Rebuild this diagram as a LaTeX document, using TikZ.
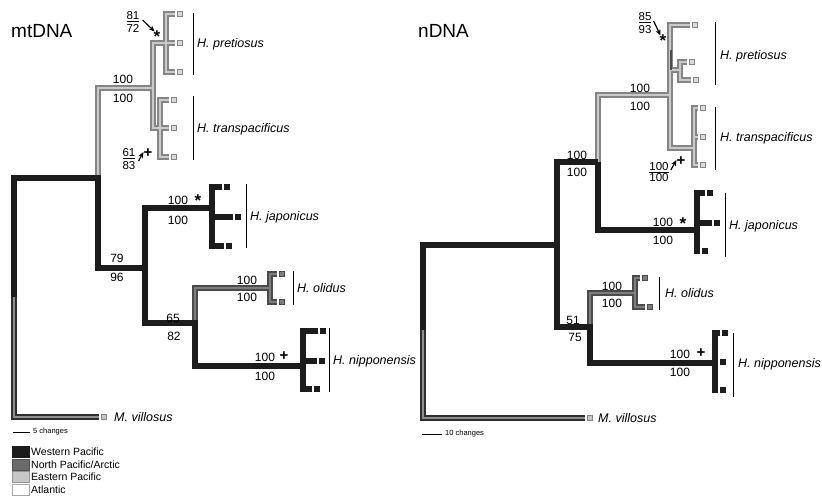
\documentclass[tikz,border=0pt]{standalone}
\usepackage{fontspec}
\setmainfont{Liberation Sans}
\usetikzlibrary{arrows.meta}
\definecolor{wpc}{HTML}{1C1C1C}
\definecolor{npo}{HTML}{4A4A4A}
\definecolor{npi}{HTML}{7E7E7E}
\definecolor{epo}{HTML}{858585}
\definecolor{epi}{HTML}{CACACA}
\definecolor{ogo}{HTML}{2E2E2E}
\definecolor{ogi}{HTML}{8E8E8E}
\tikzset{
 owp/.style={draw=wpc, line width=6pt, line join=miter},
 iwp/.style={owp},
 oep/.style={draw=epo, line width=6.5pt, line join=miter},
 iep/.style={draw=epi, line width=2.8pt, line join=miter},
 onp/.style={draw=npo, line width=6.5pt, line join=miter},
 inp/.style={draw=npi, line width=2.8pt, line join=miter},
 oog/.style={draw=ogo, line width=6.5pt, line join=miter},
 iog/.style={draw=ogi, line width=2.6pt, line join=miter},
 tipbox/.style={minimum size=5.5pt, inner sep=0pt, outer sep=2pt, line width=0.9pt},
 tipwp/.style={tipbox, fill=wpc, draw=wpc},
 tipep/.style={tipbox, fill=epi!70!white, draw=epo},
 tipnp/.style={tipbox, fill=npi, draw=npo},
 tipog/.style={tipbox, fill=ogi!50!white, draw=epo},
 num/.style={font=\fontsize{12}{12}\selectfont, inner sep=0pt},
 fracl/.style={font=\fontsize{11.5}{13}\selectfont, align=center, inner sep=0pt},
 star/.style={font=\fontsize{17}{17}\selectfont\bfseries, inner sep=0pt},
 plus/.style={font=\fontsize{15}{15}\selectfont\bfseries, inner sep=0pt},
 species/.style={font=\fontsize{12.5}{12.5}\selectfont\itshape, anchor=west, text height=9pt, text depth=0pt, inner sep=0pt},
 spbar/.style={draw=black, line width=0.8pt},
 arr/.style={-{Stealth[length=6pt,width=5pt]}, line width=1.2pt},
 ttl/.style={font=\fontsize{19}{19}\selectfont, anchor=west, inner sep=0pt},
 legbox/.style={minimum width=17pt, minimum height=11pt, inner sep=0pt, line width=0.8pt},
 legtext/.style={font=\fontsize{10.5}{10.5}\selectfont, anchor=west, inner sep=0pt},
 scaletext/.style={font=\fontsize{7.5}{7.5}\selectfont, anchor=west, inner sep=0pt},
}
\newcommand\mtbranches[1]{%
 \draw[#1ep] (mA) |- (mE);
 \draw[#1ep] (mp1.west) -| (mP) |- (mp3.west);
 \draw[#1ep] (mP) -- (mp2.west);
 \draw[#1ep] (mP) -| (mE) |- (mT);
 \draw[#1ep] (mt1.west) -| (mT) |- (mt3.west);
 \draw[#1ep] (mT) -- (mt2.west);
 \draw[#1np] (mC) |- (mO);
 \draw[#1np] (mo1.west) -| (mO) |- (mo2.west);
 \draw[#1og] (mRm) |- (mV.west);
 \draw[#1wp] (mRm) |- (mA) |- (mB) |- (mJ);
 \draw[#1wp] (mB) |- (mC) |- (mN);
 \draw[#1wp] (mj1.west) -| (mJ) |- (mj3.west);
 \draw[#1wp] (mJ |- mj2) -- (mj2.west);
 \draw[#1wp] (mn1.west) -| (mN) |- (mn3.west);
 \draw[#1wp] (mN |- mn2) -- (mn2.west);
}
\newcommand\ntbranches[1]{%
 \draw[#1ep] (nB) |- (nE);
 \draw[#1ep] (np1.west) -| (nE) |- (nT);
 \draw[#1ep] (nE |- nP) -- (nP);
 \draw[#1ep] (np2.west) -| (nP) |- (np3.west);
 \draw[#1ep] (nt1.west) -| (nT) |- (nt3.west);
 \draw[#1ep] (nT |- nt2) -- (nt2.west);
 \draw[#1np] (nC) |- (nO);
 \draw[#1np] (no1.west) -| (nO) |- (no2.west);
 \draw[#1og] (nRm) |- (nV.west);
 \draw[#1wp] (nRm) |- (nA);
 \draw[#1wp] (nB) -| (nA) |- (nC) |- (nN);
 \draw[#1wp] (nB) |- (nJ);
 \draw[#1wp] (nj1.west) -| (nJ) |- (nj3.west);
 \draw[#1wp] (nJ |- nj2) -- (nj2.west);
 \draw[#1wp] (nn1.west) -| (nN) |- (nn3.west);
 \draw[#1wp] (nN |- nn2) -- (nn2.west);
}
\begin{document}
\begin{tikzpicture}[x=1pt,y=-1pt]
\useasboundingbox[fill=white] (0,0) rectangle (822,496);

% ---------------- mtDNA ----------------
\coordinate (mRm) at (14,297);
\coordinate (mA) at (98,178);
\coordinate (mE) at (153,88);
\coordinate (mP) at (166,43);
\coordinate (mT) at (160,128);
\coordinate (mB) at (145,268);
\coordinate (mJ) at (212,208);
\coordinate (mC) at (195,323);
\coordinate (mO) at (270,288);
\coordinate (mN) at (303,366);
\node[tipep] (mp1) at (180,14) {};
\node[tipep] (mp2) at (180,43) {};
\node[tipep] (mp3) at (180,72) {};
\node[tipep] (mt1) at (174,100) {};
\node[tipep] (mt2) at (174,128) {};
\node[tipep] (mt3) at (174,157) {};
\node[tipwp] (mj1) at (227,187) {};
\node[tipwp] (mj2) at (238,217) {};
\node[tipwp] (mj3) at (229,246) {};
\node[tipnp] (mo1) at (282,274) {};
\node[tipnp] (mo2) at (282,302) {};
\node[tipwp] (mn1) at (323,331) {};
\node[tipwp] (mn2) at (322,361) {};
\node[tipwp] (mn3) at (317,389) {};
\node[tipog] (mV) at (104,417) {};
\mtbranches{o}
\mtbranches{i}

\node[ttl] (tmt) at (11,31) {mtDNA};
\node[num] (ma1) at (123,79) {100};
\node[num] (ma2) at (123,98) {100};
\node[fracl] (mf1) at (133,22) {\underline{81}\\72};
\node[star] (ms1) at (157,36.5) {*};
\draw[arr] ([xshift=3pt,yshift=2pt]mf1.east) -- ([xshift=1pt,yshift=-1pt]ms1.north west);
\node[fracl] (mf2) at (129,159) {\underline{61}\\83};
\node[plus] (ms2) at (148,153) {+};
\draw[arr] ([xshift=3pt,yshift=-2pt]mf2.east) -- ([yshift=1pt]ms2.west);
\node[num] (mb1) at (117,258) {79};
\node[num] (mb2) at (117,277) {96};
\node[num] (mj1l) at (178,200) {100};
\node[star] (mjs) at (198,200.5) {*};
\node[num] (mj2l) at (178,220) {100};
\node[num] (mc1) at (173,318) {65};
\node[num] (mc2) at (174,336) {82};
\node[num] (mo1l) at (247,280) {100};
\node[num] (mo2l) at (247,297) {100};
\node[num] (mn1l) at (265,357) {100};
\node[plus] (mns) at (284,356) {+};
\node[num] (mn2l) at (265,376) {100};

\draw[spbar] (193,13) -- (193,75);
\node[species] (mspp) at (197,43) {H. pretiosus};
\draw[spbar] (193,96) -- (193,160);
\node[species] (mspt) at (197,128) {H. transpacificus};
\draw[spbar] (246,184) -- (246,248);
\node[species] (mspj) at (250,216) {H. japonicus};
\draw[spbar] (293,271) -- (293,305);
\node[species] (mspo) at (297,288) {H. olidus};
\draw[spbar] (329,328) -- (329,392);
\node[species] (mspn) at (333,360) {H. nipponensis};
\node[species] (mspv) at (114,417) {M. villosus};

\coordinate (msc1) at (13,432);
\coordinate (msc2) at (30,432);
\draw[line width=0.8pt] (msc1) -- (msc2);
\node[scaletext] (msct) at (33,432) {5 changes};

% legend
\node[legbox, fill=wpc, draw=wpc] (lg1) at (21,452) {};
\node[legbox, fill=black!58, draw=black!68] (lg2) at (21,464.5) {};
\node[legbox, fill=black!22, draw=black!42] (lg3) at (21,477) {};
\node[legbox, fill=white, draw=black!35] (lg4) at (21,489.5) {};
\node[legtext] (lt1) at (31,452) {Western Pacific};
\node[legtext] (lt2) at (31,464.5) {North Pacific/Arctic};
\node[legtext] (lt3) at (31,477) {Eastern Pacific};
\node[legtext] (lt4) at (31,489.5) {Atlantic};

% ---------------- nDNA ----------------
\coordinate (nRm) at (423,330);
\coordinate (nA) at (557,245);
\coordinate (nB) at (598,162);
\coordinate (nE) at (670,95);
\coordinate (nP) at (680,70);
\coordinate (nT) at (694,148);
\coordinate (nJ) at (697,230);
\coordinate (nC) at (590,327);
\coordinate (nO) at (635,293);
\coordinate (nN) at (715,363);
\node[tipep] (np1) at (695,25) {};
\node[tipep] (np2) at (692,62) {};
\node[tipep] (np3) at (696,80) {};
\node[tipep] (nt1) at (703,108) {};
\node[tipep] (nt2) at (703,137) {};
\node[tipep] (nt3) at (703,165) {};
\node[tipwp] (nj1) at (710,193) {};
\node[tipwp] (nj2) at (717,223) {};
\node[tipwp] (nj3) at (705,251) {};
\node[tipnp] (no1) at (645,278) {};
\node[tipnp] (no2) at (650,307) {};
\node[tipwp] (nn1) at (725,333) {};
\node[tipwp] (nn2) at (723,362) {};
\node[tipwp] (nn3) at (723,390) {};
\node[tipog] (nV) at (590,418) {};
\ntbranches{o}
\ntbranches{i}
\draw[line width=1.5pt, draw=black!70] (671,50) -- (671,70);

\node[ttl] (tnd) at (418,31) {nDNA};
\node[num] (nb1) at (577,155) {100};
\node[num] (nb2) at (577,172) {100};
\node[num] (ne1) at (640,88) {100};
\node[num] (ne2) at (640,106) {100};
\node[fracl] (nf1) at (645,23) {\underline{85}\\93};
\node[star] (ns1) at (663,40.5) {*};
\draw[arr] ([xshift=2pt,yshift=2pt]nf1.east) -- ([xshift=1pt,yshift=-1pt]ns1.north west);
\node[fracl, font=\fontsize{11.5}{11}\selectfont] (nf2) at (659,172) {\underline{100}\\100};
\node[plus] (ns2) at (681,161) {+};
\draw[arr] ([xshift=2pt,yshift=2pt]nf2.east) -- ([yshift=1pt]ns2.west);
\node[num] (nj1l) at (663,222) {100};
\node[star] (njs) at (683,223.5) {*};
\node[num] (nj2l) at (663,240) {100};
\node[num] (nc1) at (573,320) {51};
\node[num] (nc2) at (575,337) {75};
\node[num] (no1l) at (612,286) {100};
\node[num] (no2l) at (612,303) {100};
\node[num] (nn1l) at (680,354) {100};
\node[plus] (nns) at (701,353) {+};
\node[num] (nn2l) at (680,372) {100};

\draw[spbar] (715,22) -- (715,85);
\node[species] (nspp) at (720,55) {H. pretiosus};
\draw[spbar] (715,107) -- (715,170);
\node[species] (nspt) at (720,137) {H. transpacificus};
\draw[spbar] (725,193) -- (725,257);
\node[species] (nspj) at (729,225) {H. japonicus};
\draw[spbar] (659,277) -- (659,310);
\node[species] (nspo) at (665,293) {H. olidus};
\draw[spbar] (733,333) -- (733,397);
\node[species] (nspn) at (738,363) {H. nipponensis};
\node[species] (nspv) at (598,418) {M. villosus};

\coordinate (nsc1) at (422,434);
\coordinate (nsc2) at (442,434);
\draw[line width=0.8pt] (nsc1) -- (nsc2);
\node[scaletext] (nsct) at (445,434) {10 changes};
\end{tikzpicture}
\end{document}
